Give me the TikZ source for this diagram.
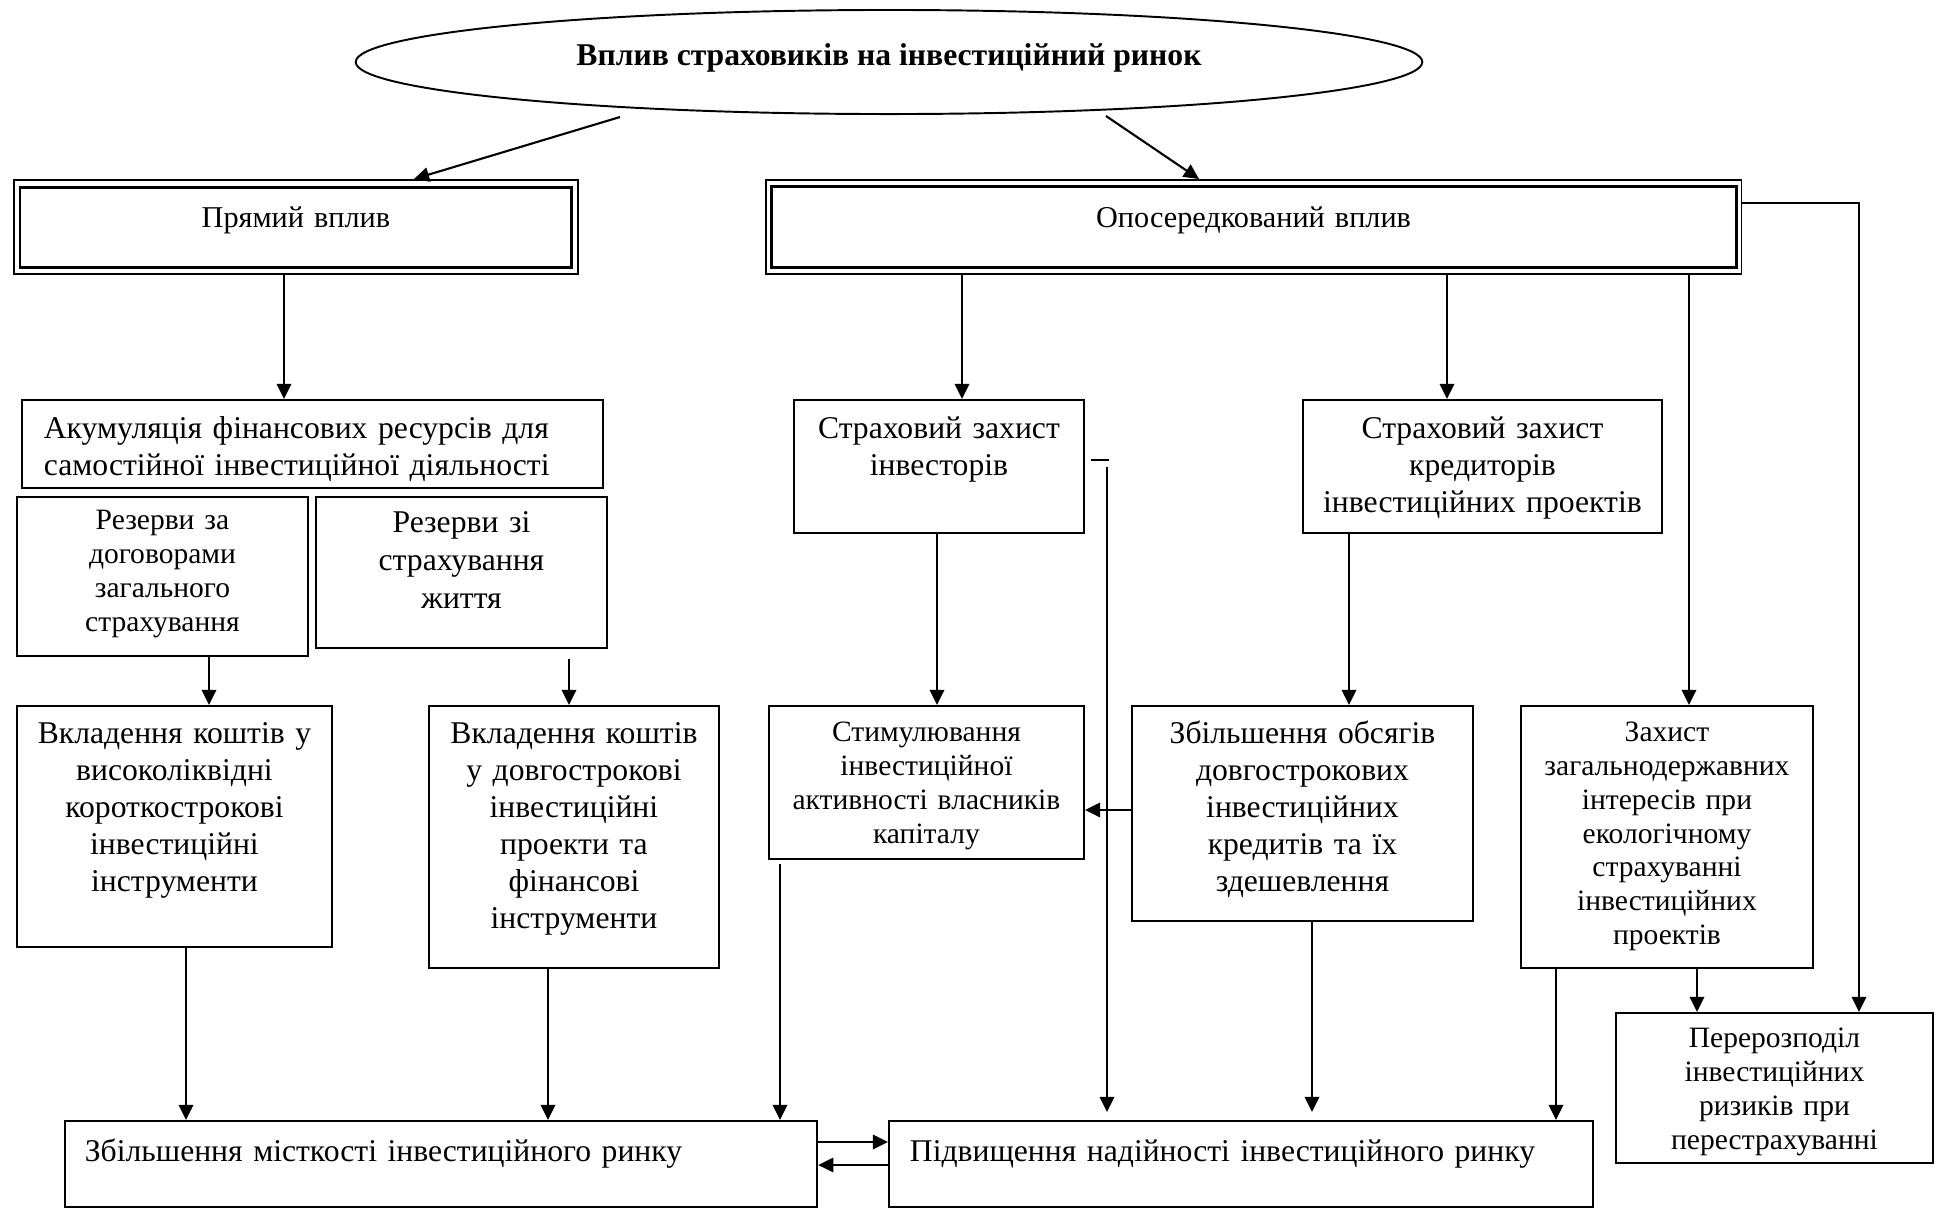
\documentclass[tikz,border=0pt]{standalone}
\usepackage{fontspec}
\setmainfont{Liberation Serif}
\usetikzlibrary{arrows.meta,shapes.geometric}
\newcommand{\fbig}{\fontsize{9}{10.5}\selectfont}
\newcommand{\fsmall}{\fontsize{8.4}{9.6}\selectfont}

\begin{document}
\begin{tikzpicture}[x=0.01cm,y=-0.01cm,>={Triangle[length=4.3pt,width=4.1pt]},
  box/.style={draw,line width=0.5pt,anchor=north west,inner sep=0pt,align=center,font=\fbig},
  dbox/.style={box,line width=0.45pt,font=\fontsize{8.6}{10}\selectfont},
  inner/.style={line width=0.85pt},
  arr/.style={->,line width=0.6pt}]
  \useasboundingbox (0,0) rectangle (1939,1208);

  % title and the two kinds of influence
  \node[draw,ellipse,line width=0.55pt,minimum width=10.66cm,minimum height=1.04cm,inner sep=0pt,
    font=\bfseries\fbig,text height=0.2cm,text depth=0.14cm] (title) at (889,62)
    {Вплив страховиків на інвестиційний ринок};
  \node[dbox,text width=5.64cm,text height=0.48cm,text depth=0.46cm] (pryam) at (13,179) {Прямий вплив};
  \draw[inner] ([shift={(7,8)}]pryam.north west) rectangle ([shift={(-7,-7)}]pryam.south east);
  \node[dbox,text width=9.75cm,text height=0.48cm,text depth=0.46cm] (oposer) at (765,179) {Опосередкований вплив};
  \draw[inner] ([shift={(6,7)}]oposer.north west) rectangle ([shift={(-6,-7)}]oposer.south east);

  % direct branch
  \node[box,align=left,inner xsep=0.22cm,text width=5.37cm,text height=0.39cm,text depth=0.49cm] (akum) at (21,399)
    {Акумуляція фінансових ресурсів для\\самостійної інвестиційної діяльності};
  \node[box,font=\fsmall,text width=2.91cm,text height=0.33cm,text depth=1.26cm] (rezA) at (16,496)
    {Резерви за\\договорами\\загального\\страхування};
  \node[box,font=\fontsize{9}{10.8}\selectfont,text width=2.91cm,text height=0.36cm,text depth=1.15cm] (rezB) at (315,496)
    {Резерви зі\\страхування\\життя};
  \node[box,text width=3.15cm,text height=0.38cm,text depth=2.03cm] (vklA) at (16,705)
    {Вкладення коштів у\\високоліквідні\\короткострокові\\інвестиційні\\інструменти};
  \node[box,text width=2.90cm,text height=0.38cm,text depth=2.24cm] (vklB) at (428,705)
    {Вкладення коштів\\у довгострокові\\інвестиційні\\проекти та\\фінансові\\інструменти};

  % indirect branch
  \node[box,text width=2.90cm,text height=0.39cm,text depth=0.94cm] (zinv) at (793,399)
    {Страховий захист\\інвесторів};
  \node[box,text width=3.59cm,text height=0.39cm,text depth=0.94cm] (zkred) at (1302,399)
    {Страховий захист\\кредиторів\\інвестиційних проектів};
  \node[box,font=\fsmall,text width=3.15cm,text height=0.36cm,text depth=1.17cm] (stym) at (768,705)
    {Стимулювання\\інвестиційної\\активності власників\\капіталу};
  \node[box,text width=3.41cm,text height=0.38cm,text depth=1.77cm] (zbob) at (1131,705)
    {Збільшення обсягів\\довгострокових\\інвестиційних\\кредитів та їх\\здешевлення};
  \node[box,font=\fsmall,text width=2.92cm,text height=0.36cm,text depth=2.26cm] (zaxd) at (1520,705)
    {Захист\\загальнодержавних\\інтересів при\\екологічному\\страхуванні\\інвестиційних\\проектів};
  \node[box,font=\fsmall,text width=3.17cm,text height=0.35cm,text depth=1.15cm] (pere) at (1615,1012)
    {Перерозподіл\\інвестиційних\\ризиків при\\перестрахуванні};

  % results
  \node[box,align=left,inner xsep=0.2cm,text width=7.12cm,text height=0.41cm,text depth=0.45cm] (zmis) at (64,1120)
    {Збільшення місткості інвестиційного ринку};
  \node[box,align=left,inner xsep=0.21cm,text width=6.62cm,text height=0.41cm,text depth=0.45cm] (pidv) at (888,1120)
    {Підвищення надійності інвестиційного ринку};

  % connectors
  \draw[arr] ([shift={(-269,55)}]title.center) -- (414,0 |- pryam.north);
  \draw[arr] ([shift={(217,54)}]title.center) -- (1199,0 |- oposer.north);
  \draw[arr] (284,0 |- pryam.south) -- (284,0 |- akum.north);
  \draw[arr] (962,0 |- oposer.south) -- (962,0 |- zinv.north);
  \draw[arr] (1447,0 |- oposer.south) -- (1447,0 |- zkred.north);
  \draw[arr] (1689,0 |- oposer.south) -- (1689,0 |- zaxd.north);
  \draw[arr] (oposer.east |- 0,203) -| (1859,0 |- pere.north);
  \draw[arr] (209,0 |- rezA.south) -- (209,0 |- vklA.north);
  \draw[arr,shorten <=0.1cm] (569,0 |- rezB.south) -- (569,0 |- vklB.north);
  \draw[arr] (937,0 |- zinv.south) -- (937,0 |- stym.north);
  \draw[arr] (1349,0 |- zkred.south) -- (1349,0 |- zbob.north);
  \draw[arr] (zbob.west |- 0,810) -- (stym.east |- 0,810);
  \draw[arr] (186,0 |- vklA.south) -- (186,0 |- zmis.north);
  \draw[arr] (548,0 |- vklB.south) -- (548,0 |- zmis.north);
  \draw[arr,shorten <=0.04cm] (780,0 |- stym.south) -- (780,0 |- zmis.north);
  \coordinate (dashA) at (1091,460);
  \coordinate (dashB) at (1109,460);
  \draw[line width=0.4pt] (dashA) -- (dashB);
  \coordinate (riskTop) at (1107,467);
  \draw[arr,shorten >=0.08cm] (riskTop) -- (riskTop |- pidv.north);
  \draw[arr,shorten >=0.08cm] (1312,0 |- zbob.south) -- (1312,0 |- pidv.north);
  \draw[arr] (1556,0 |- zaxd.south) -- (1556,0 |- pidv.north);
  \draw[arr] (1697,0 |- zaxd.south) -- (1697,0 |- pere.north);
  \draw[arr] (zmis.east |- 0,1142) -- (pidv.west |- 0,1142);
  \draw[arr] (pidv.west |- 0,1165) -- (zmis.east |- 0,1165);
\end{tikzpicture}
\end{document}
